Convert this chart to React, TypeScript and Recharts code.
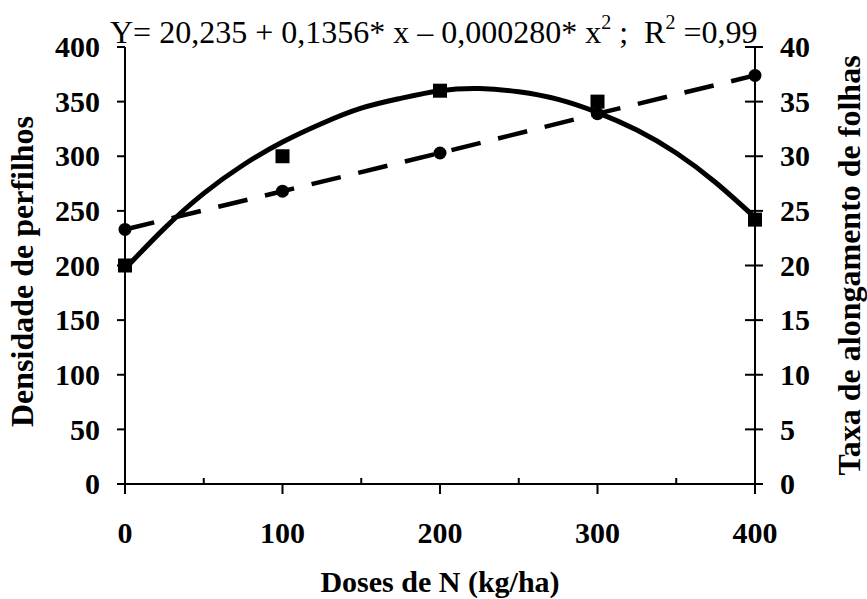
import { ComposedChart, Line, XAxis, YAxis } from "recharts";

const FONT = '"Liberation Serif", "Times New Roman", serif';

// Doses de N (kg/ha)
const doses = [0, 100, 200, 300, 400];
// Densidade de perfilhos (circles, left axis)
const densidade = [233, 268, 303, 339, 374];
// Taxa de alongamento de folhas (squares, right axis)
const taxa = [20.0, 30.0, 36.0, 35.0, 24.2];
// fitted curve for taxa
const curveDoses = [0, 25, 50, 75, 100, 125, 150, 175, 200, 225, 250, 275, 300, 325, 350, 375, 400];
const curveTaxa = [19.7, 23.4, 26.6, 29.2, 31.3, 33.0, 34.4, 35.3, 36.0, 36.2, 35.9, 35.2, 34.0, 32.4, 30.3, 27.6, 24.4];

const xTicks = [0, 50, 100, 150, 200, 250, 300, 350, 400];
const leftTicks = [0, 50, 100, 150, 200, 250, 300, 350, 400];
const rightTicks = [0, 5, 10, 15, 20, 25, 30, 35, 40];

const circleData = doses.map((x, i) => ({ x, y: densidade[i] }));
const squareData = doses.map((x, i) => ({ x, y: taxa[i] }));
const curveData = curveDoses.map((x, i) => ({ x, y: curveTaxa[i] }));

const tickFont = { fontFamily: FONT, fontWeight: "bold" as const, fontSize: 30, fill: "#000" };
const titleFont = { fontFamily: FONT, fontWeight: "bold" as const, fontSize: 32, fill: "#000" };

function XTick(props: any) {
  const { x, y, payload } = props;
  const axisY = y - 10;
  if (payload.value % 100 !== 0) {
    return <line x1={x} x2={x} y1={axisY - 6} y2={axisY} stroke="#000" strokeWidth={2} />;
  }
  return (
    <g>
      <line x1={x} x2={x} y1={axisY} y2={axisY + 10} stroke="#000" strokeWidth={2} />
      <text x={x} y={axisY + 59} textAnchor="middle" {...tickFont}>
        {payload.value}
      </text>
    </g>
  );
}

function LeftTick(props: any) {
  const { x, y, payload } = props;
  return (
    <text x={x} y={y} dy="0.34em" textAnchor="end" {...tickFont}>
      {payload.value}
    </text>
  );
}

function RightTick(props: any) {
  const { x, y, payload } = props;
  const axisX = x - 25;
  return (
    <g>
      <line x1={axisX - 10} x2={axisX + 8} y1={y} y2={y} stroke="#000" strokeWidth={2} />
      <text x={x} y={y} dy="0.34em" textAnchor="start" {...tickFont}>
        {payload.value}
      </text>
    </g>
  );
}

function LeftTitle(props: any) {
  const vb = props.viewBox || { x: 0, y: 47, width: 125, height: 437 };
  const cx = vb.x + 33;
  const cy = vb.y + vb.height / 2 + 6;
  return (
    <text x={cx} y={cy} textAnchor="middle" transform={`rotate(-90 ${cx} ${cy})`} {...titleFont}>
      Densidade de perfilhos
    </text>
  );
}

function RightTitle(props: any) {
  const vb = props.viewBox || { x: 755, y: 47, width: 112, height: 437 };
  const cx = vb.x + 105;
  const cy = vb.y + vb.height / 2;
  return (
    <text x={cx} y={cy} textAnchor="middle" transform={`rotate(-90 ${cx} ${cy})`} {...titleFont}>
      Taxa de alongamento de folhas
    </text>
  );
}

function BottomTitle(props: any) {
  const vb = props.viewBox || { x: 125, y: 484, width: 630, height: 115 };
  return (
    <text x={vb.x + vb.width / 2} y={vb.y + 108} textAnchor="middle" {...titleFont} fontSize={30}>
      Doses de N (kg/ha)
    </text>
  );
}

function SquareDot(props: any) {
  const { cx, cy, index } = props;
  return <rect key={`sq-${index}`} x={cx - 7} y={cy - 7} width={14} height={14} fill="#000" />;
}

function CircleDot(props: any) {
  const { cx, cy, index } = props;
  return <circle key={`ci-${index}`} cx={cx} cy={cy} r={6.5} fill="#000" />;
}

export default function App() {
  return (
    <div style={{ position: "absolute", left: 0, top: 0, width: 867, height: 599, background: "#fff" }}>
      <ComposedChart width={867} height={599} margin={{ top: 47, right: 0, left: 0, bottom: 0 }}>
        <XAxis
          type="number"
          dataKey="x"
          domain={[0, 400]}
          ticks={xTicks}
          interval={0}
          height={115}
          tickSize={10}
          tickMargin={0}
          tickLine={false}
          axisLine={{ stroke: "#000", strokeWidth: 2 }}
          tick={<XTick />}
          label={<BottomTitle />}
        />
        <YAxis
          yAxisId="left"
          orientation="left"
          type="number"
          domain={[0, 400]}
          ticks={leftTicks}
          interval={0}
          width={125}
          tickSize={8}
          tickMargin={17}
          tickLine={{ stroke: "#000", strokeWidth: 2 }}
          axisLine={{ stroke: "#000", strokeWidth: 2 }}
          tick={<LeftTick />}
          label={<LeftTitle />}
        />
        <YAxis
          yAxisId="right"
          orientation="right"
          type="number"
          domain={[0, 40]}
          ticks={rightTicks}
          interval={0}
          width={112}
          tickSize={8}
          tickMargin={17}
          tickLine={false}
          axisLine={{ stroke: "#000", strokeWidth: 2 }}
          tick={<RightTick />}
          label={<RightTitle />}
        />
        <Line
          yAxisId="left"
          data={circleData}
          dataKey="y"
          type="linear"
          stroke="#000"
          strokeWidth={4.5}
          strokeDasharray="30 18"
          dot={CircleDot}
          activeDot={false}
          isAnimationActive={false}
        />
        <Line
          yAxisId="right"
          data={curveData}
          dataKey="y"
          type="natural"
          stroke="#000"
          strokeWidth={5}
          dot={false}
          activeDot={false}
          isAnimationActive={false}
        />
        <Line
          yAxisId="right"
          data={squareData}
          dataKey="y"
          type="linear"
          stroke="none"
          strokeWidth={0}
          dot={SquareDot}
          activeDot={false}
          isAnimationActive={false}
        />
      </ComposedChart>
      <svg
        width={867}
        height={60}
        style={{ position: "absolute", left: 0, top: 0, pointerEvents: "none" }}
      >
        <text x={110} y={43} fontFamily={FONT} fontSize={32} fill="#000" style={{ whiteSpace: "pre" }}>
          {"Y= 20,235 + 0,1356* x \u2013 0,000280* x"}
          <tspan fontSize={20} dy={-14}>2</tspan>
          <tspan dy={14}>{" ;  R"}</tspan>
          <tspan fontSize={20} dy={-14}>2</tspan>
          <tspan dy={14}>{" =0,99"}</tspan>
        </text>
      </svg>
    </div>
  );
}
